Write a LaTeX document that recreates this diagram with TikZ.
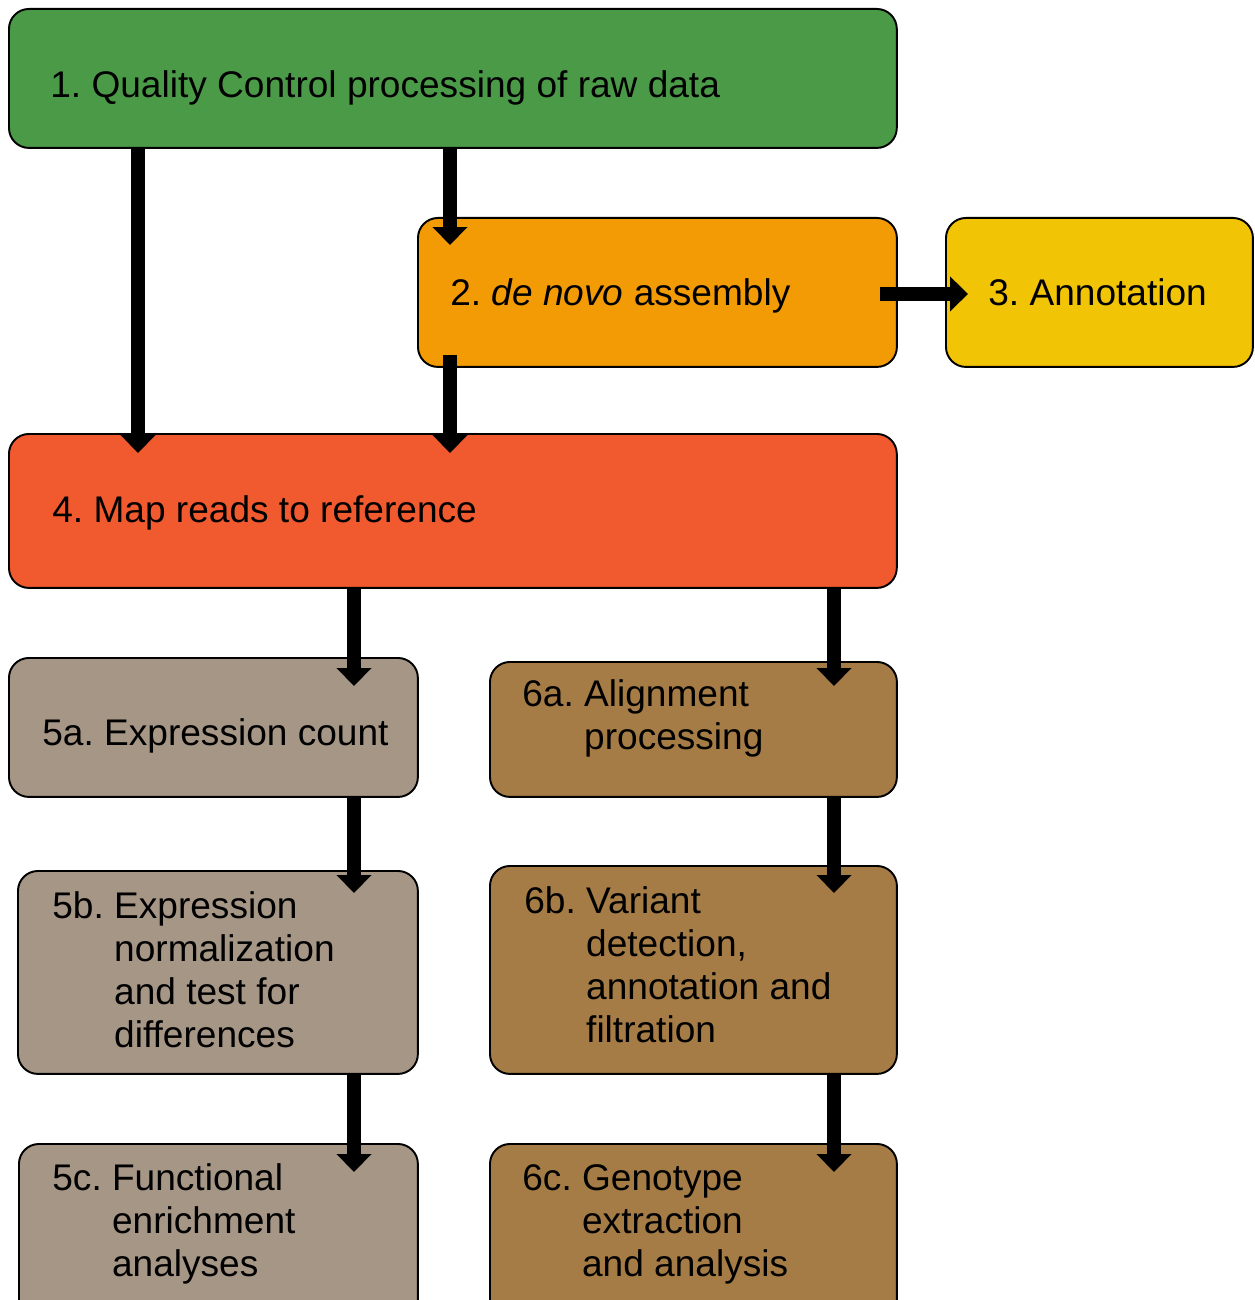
\documentclass[tikz,border=0pt]{standalone}
\usepackage{fontspec}
\setmainfont{Liberation Sans}
\usetikzlibrary{arrows.meta,calc}

\definecolor{qcgreen}{HTML}{4B9A48}
\definecolor{asmorange}{HTML}{F29B05}
\definecolor{annyellow}{HTML}{F2C406}
\definecolor{mapred}{HTML}{F15A2F}
\definecolor{exptaupe}{HTML}{A69686}
\definecolor{varbrown}{HTML}{A57C45}

\begin{document}
\frenchspacing
\begin{tikzpicture}[x=0.02cm, y=-0.02cm,
  stepbox/.style={draw=black, line width=1.1pt, rounded corners=0.4cm,
    anchor=north west, inner sep=0pt},
  steptext/.style={anchor=base west, inner sep=0pt,
    font=\fontsize{21.1pt}{24.5pt}\selectfont, align=left},
  flow/.style={-{Triangle[length=0.36cm, width=0.68cm]}, line width=0.28cm, black},
]
  \useasboundingbox (0,0) rectangle (1254,1300);
  \clip (0,0) rectangle (1254,1300);

  % boxes
  \node[stepbox, fill=qcgreen,   minimum width=17.76cm, minimum height=2.78cm] (qc)  at (8,8)     {};
  \node[stepbox, fill=asmorange, minimum width=9.58cm,  minimum height=2.98cm] (asm) at (417,217) {};
  \node[stepbox, fill=annyellow, minimum width=6.14cm,  minimum height=2.98cm] (ann) at (945,217) {};
  \node[stepbox, fill=mapred,    minimum width=17.76cm, minimum height=3.08cm] (map) at (8,433)   {};
  \node[stepbox, fill=exptaupe,  minimum width=8.18cm,  minimum height=2.78cm] (cnt) at (8,657)   {};
  \node[stepbox, fill=varbrown,  minimum width=8.14cm,  minimum height=2.70cm] (aln) at (489,661) {};
  \node[stepbox, fill=exptaupe,  minimum width=8.0cm,   minimum height=4.06cm] (nrm) at (17,870)  {};
  \node[stepbox, fill=varbrown,  minimum width=8.14cm,  minimum height=4.16cm] (var) at (489,865) {};
  \node[stepbox, fill=exptaupe,  minimum width=7.98cm,  minimum height=4.2cm]  (fun) at (18,1143) {};
  \node[stepbox, fill=varbrown,  minimum width=8.14cm,  minimum height=4.2cm]  (gen) at (489,1143) {};

  % texts
  \node[steptext] (qct)  at (50,98)   {1. Quality Control processing of raw data};
  \node[steptext] (asmt) at (450,306) {2. \textit{de novo} assembly};
  \node[steptext] (annt) at (988,306) {3. Annotation};
  \node[steptext] (mapt) at (52,522)  {4. Map reads to reference};
  \node[steptext] (cntt) at (42,745)  {5a. Expression count};
  \node[steptext] (alnt) at (522,706) {\begin{tabular}[t]{@{}l@{\ }l@{}}6a. & Alignment\\ & processing\end{tabular}};
  \node[steptext] (nrmt) at (52,918)  {\begin{tabular}[t]{@{}l@{\ }l@{}}5b. & Expression\\ & normalization\\ & and test for\\ & differences\end{tabular}};
  \node[steptext] (vart) at (524,913) {\begin{tabular}[t]{@{}l@{\ }l@{}}6b. & Variant\\ & detection,\\ & annotation and\\ & filtration\end{tabular}};
  \node[steptext] (funt) at (52,1190) {\begin{tabular}[t]{@{}l@{\ }l@{}}5c. & Functional\\ & enrichment\\ & analyses\end{tabular}};
  \node[steptext] (gent) at (522,1190) {\begin{tabular}[t]{@{}l@{\ }l@{}}6c. & Genotype\\ & extraction\\ & and analysis\end{tabular}};

  % arrows
  \draw[flow] (qc.south -| 138,0) -- ($(map.north -| 138,0)+(0,20)$);
  \draw[flow] (qc.south -| 450,0) -- ($(asm.north -| 450,0)+(0,28)$);
  \draw[flow] ($(asm.east)+(-18,1.5)$) -- ($(ann.west)+(23,1.5)$);
  \draw[flow] ($(asm.south -| 450,0)+(0,-13)$) -- ($(map.north -| 450,0)+(0,20)$);
  \draw[flow] (map.south -| 354,0) -- ($(cnt.north -| 354,0)+(0,29)$);
  \draw[flow] (map.south -| 834,0) -- ($(aln.north -| 834,0)+(0,25)$);
  \draw[flow] (cnt.south -| 354,0) -- ($(nrm.north -| 354,0)+(0,23)$);
  \draw[flow] (aln.south -| 834,0) -- ($(var.north -| 834,0)+(0,28)$);
  \draw[flow] (nrm.south -| 354,0) -- ($(fun.north -| 354,0)+(0,29)$);
  \draw[flow] (var.south -| 834,0) -- ($(gen.north -| 834,0)+(0,29)$);
\end{tikzpicture}
\end{document}
